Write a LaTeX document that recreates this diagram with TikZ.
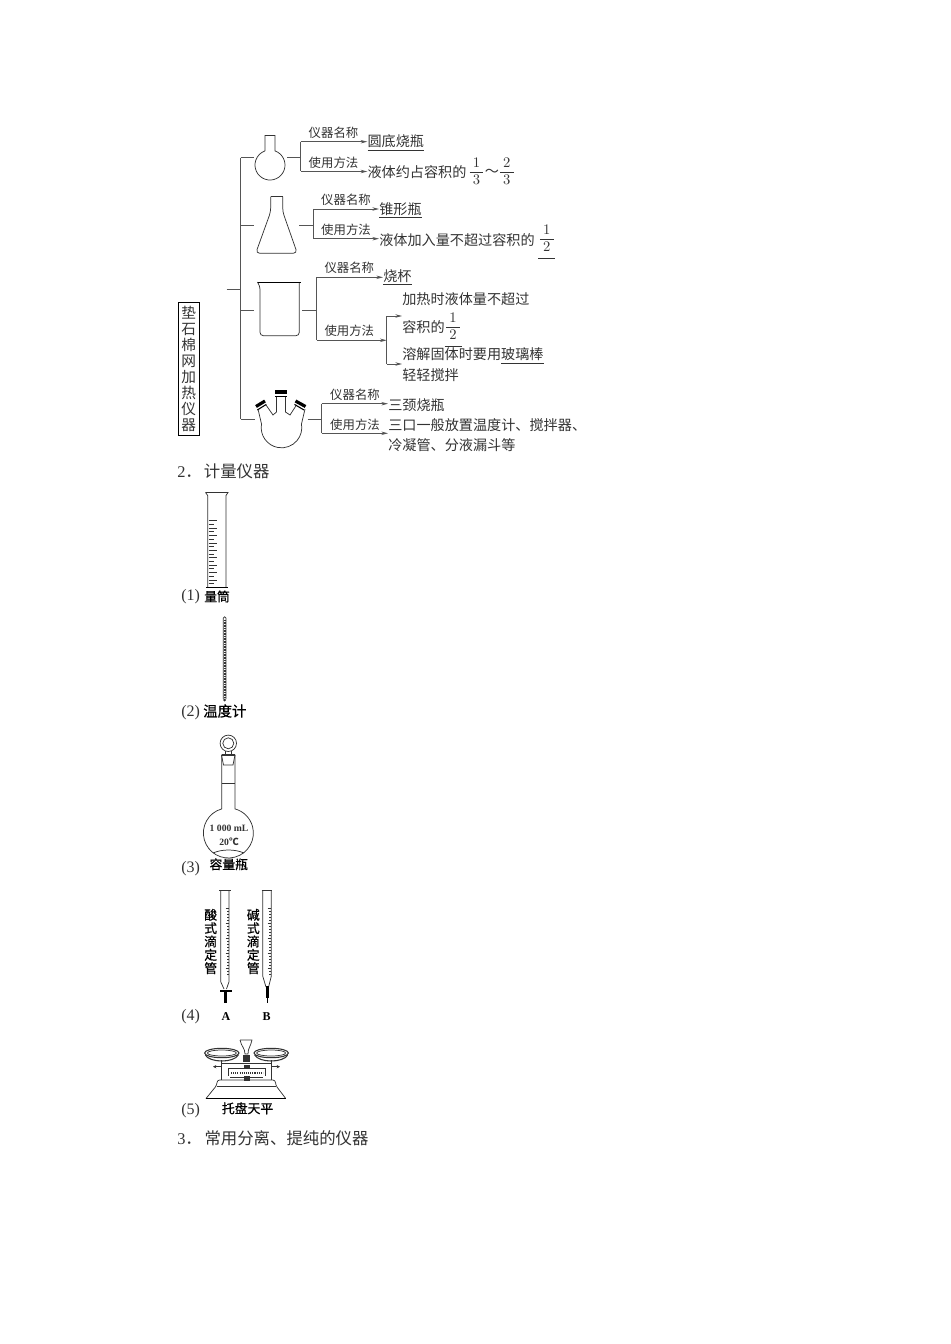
\documentclass[tikz,border=0pt]{standalone}
\usepackage{fontspec}
\setmainfont{Liberation Serif}
\newfontfamily\cjk{Noto Sans CJK SC}
\newfontfamily\cjkb{Noto Sans CJK SC}[FakeBold=0.7]
\usetikzlibrary{arrows.meta}
\definecolor{ink}{HTML}{333333}
\definecolor{wire}{HTML}{555555}
\newcommand\fr[2]{$\displaystyle\frac{\:\raisebox{-1pt}{$#1$}\:}{\:\raisebox{1pt}{$#2$}\:}$}
\newcommand\frul[2]{\underline{\rule[-10pt]{0pt}{1pt}\fr{#1}{#2}}}
\tikzset{
  lne/.style={draw=wire, line width=0.6pt},
  arw/.style={draw=wire, line width=0.6pt, -{Stealth[length=5pt,width=2.6pt]}},
  ins/.style={draw=ink, line width=0.55pt},
  thk/.style={draw=black, line width=1.2pt},
  lbl/.style={text=ink, inner sep=0pt, font=\cjk\fontsize{9.3}{11}\selectfont},
  ans/.style={text=ink, inner sep=0pt, anchor=west, font=\cjk\fontsize{10.6}{12}\selectfont},
  frc/.style={text=ink, inner sep=0pt, anchor=base, font=\fontsize{11}{13}\selectfont},
  hd/.style={text=ink, inner sep=0pt, anchor=west, font=\cjk\fontsize{12.3}{14}\selectfont},
  num/.style={text=ink, inner sep=0pt, anchor=west, font=\fontsize{12}{14}\selectfont},
  capt/.style={text=black, inner sep=0pt, font=\cjkb\fontsize{9.6}{10}\selectfont},
  vcap/.style={capt, align=center},
  box/.style={draw=black, line width=0.8pt, text=ink, inner sep=0pt, align=center,
    minimum width=21*0.75pt, minimum height=133*0.75pt, font=\cjk\fontsize{11}{12}\selectfont}
}
\begin{document}
\begin{tikzpicture}[x=0.75pt,y=-0.75pt]
  \useasboundingbox (0,0) rectangle (950,1344);

  % tree
  \node[box] (title) at (188.8,369.3) {垫\\石\\棉\\网\\加\\热\\仪\\器};
  \coordinate (stem) at (226.7,289);
  \coordinate (tr0) at (240.5,289);
  \coordinate (tr1) at (240.5,157.7);
  \coordinate (tr2) at (240.5,225);
  \coordinate (tr3) at (240.5,310);
  \coordinate (tr4) at (240.5,419);
  \coordinate (br1) at (254,157.7);
  \coordinate (br2) at (254,225);
  \coordinate (br3) at (254,310);
  \coordinate (br4) at (255,419);
  \draw[lne] (stem)--(tr0);
  \draw[lne] (tr1)--(tr4);
  \draw[lne] (tr1)--(br1);
  \draw[lne] (tr2)--(br2);
  \draw[lne] (tr3)--(br3);
  \draw[lne] (tr4)--(br4);

  % round flask
  \draw[ins] (265,150.9)--(265,135.6)--(275,135.6)--(275,150.9)
    arc[start angle=-70.5,end angle=250.5,radius=15];
  \coordinate (r1) at (287,157.7);
  \coordinate (m1) at (300.7,157.7);
  \coordinate (a1) at (300.7,141.7);
  \coordinate (b1) at (300.7,171.5);
  \node[ans] (t1a) at (367.3,142.7) {\underline{圆底烧瓶}};
  \node[ans] (t1b) at (367.3,172) {液体约占容积的};
  \node[frc] (f1a) at (476.5,175.7) {\fr{1}{3}};
  \node[ans] (t1c) at (484.5,172.5) {～};
  \node[frc] (f1b) at (506.7,175.7) {\fr{2}{3}};
  \node[lbl] (n1) at (333.5,132.7) {仪器名称};
  \node[lbl] (u1) at (333.5,162.7) {使用方法};
  \draw[lne] (r1)--(m1);
  \draw[lne] (a1)--(b1);
  \draw[arw] (a1)--(a1 -| t1a.west);
  \draw[arw] (b1)--(b1 -| t1b.west);

  % conical flask
  \draw[ins, rounded corners=3pt] (270.7,196.7)--(270.7,211.7)--(255.7,253.3)--(297.3,253.3)--(282.7,211.7)--(282.7,196.7);
  \draw[ins] (270.7,196.7)--(282.7,196.7);
  \coordinate (r2) at (299.3,225);
  \coordinate (m2) at (313.3,225);
  \coordinate (a2) at (313.3,209);
  \coordinate (b2) at (313.3,238.7);
  \node[ans] (t2a) at (379,210.7) {\underline{锥形瓶}};
  \node[ans] (t2b) at (379,240) {液体加入量不超过容积的};
  \node[frc] (f2a) at (546.7,243) {\frul{1}{2}};
  \node[lbl] (n2) at (346,200) {仪器名称};
  \node[lbl] (u2) at (346,229.3) {使用方法};
  \draw[lne] (r2)--(m2);
  \draw[lne] (a2)--(b2);
  \draw[arw] (a2)--(a2 -| t2a.west);
  \draw[arw] (b2)--(b2 -| t2b.west);

  % beaker
  \draw[ins, rounded corners=2.5pt] (257.3,282)--(260,286)--(260,335.7)--(299.3,335.7)--(299.3,283);
  \draw[thk, line width=0.9pt] (258,282.7)--(300.7,282.7);
  \coordinate (r3) at (302.3,310);
  \coordinate (m3) at (316.7,310);
  \coordinate (a3) at (316.7,277.3);
  \coordinate (b3) at (316.7,340.3);
  \coordinate (k3) at (386.7,340.3);
  \coordinate (c3) at (386.7,316);
  \coordinate (d3) at (386.7,364);
  \node[ans] (t3a) at (383,277.5) {\underline{烧杯}};
  \node[ans] (t3b) at (402,299) {加热时液体量不超过};
  \node[ans] (t3c) at (402,327.3) {容积的};
  \node[frc] (f3a) at (453,330.7) {\frul{1}{2}};
  \node[ans] (t3d) at (402,355.7) {溶解固体时要用\underline{玻璃棒}};
  \node[ans] (t3e) at (402,375) {轻轻搅拌};
  \node[lbl] (n3) at (349.3,267.7) {仪器名称};
  \node[lbl] (u3) at (349.3,331) {使用方法};
  \draw[lne] (r3)--(m3);
  \draw[lne] (a3)--(b3);
  \draw[arw] (a3)--(a3 -| t3a.west);
  \draw[arw] (b3)--(k3);
  \draw[lne] (c3)--(d3);
  \draw[arw] (c3)--(c3 -| t3c.west);
  \draw[arw] (d3)--(d3 -| t3e.west);

  % three-neck flask
  \draw[ins] (258,409)--(261.5,424) arc[start angle=190,end angle=-10,radius=20.3]--(305,409);
  \draw[ins] (266,405)--(273,415)--(276.5,412)--(276.5,397);
  \draw[ins] (296.5,405)--(290,415)--(285.5,412)--(285.5,397);
  \draw[thk, line width=2.4pt] (256,406.5)--(265,401);
  \draw[thk, line width=0.8pt] (257.3,410)--(266.3,404.4);
  \draw[thk, line width=2.4pt] (275,392)--(286.5,392);
  \draw[thk, line width=0.8pt] (275,396.5)--(286.5,396.5);
  \draw[thk, line width=2.4pt] (295.5,401)--(305.5,406.5);
  \draw[thk, line width=0.8pt] (294.5,404.4)--(304,410);
  \coordinate (r4) at (307.7,419);
  \coordinate (m4) at (321.7,419);
  \coordinate (a4) at (321.7,403.7);
  \coordinate (b4) at (321.7,433.3);
  \node[ans] (t4a) at (388,405) {三颈烧瓶};
  \node[ans] (t4b) at (388,425) {三口一般放置温度计、搅拌器、};
  \node[ans] (t4c) at (388,445) {冷凝管、分液漏斗等};
  \node[lbl] (n4) at (355,395) {仪器名称};
  \node[lbl] (u4) at (355,425) {使用方法};
  \draw[lne] (r4)--(m4);
  \draw[lne] (a4)--(b4);
  \draw[arw] (a4)--(a4 -| t4a.west);
  \draw[arw] (b4)--(b4 -| t4b.west);

  \node[hd] (h2) at (177,471.5) {{\rmfamily 2}．\kern1.5pt 计量仪器};

  % cylinder
  \draw[ins] (205.5,492.5)--(228,492.5)--(226,495.5)--(226,587.3);
  \draw[ins] (205.5,492.5)--(207.7,495.5)--(207.7,587.3);
  \draw[thk, line width=0.9pt] (206,587.7)--(228,587.7);
  \foreach \i in {0,...,17} {
    \pgfmathsetmacro\tx{mod(\i,2)==0?216.7:214}
    \draw[ins] (208.5,520.7+\i*3.7)--(\tx,520.7+\i*3.7);
  }
  \node[num] (l1) at (181,597) {(1)};
  \node[capt, anchor=west] (c1) at (204,596.5) {量筒};

  % thermometer
  \draw[ins, rounded corners=1pt] (223.3,699)--(223.3,616.7)--(226,616.7)--(226,699);
  \fill[ink] (224.7,700) circle[radius=1.5];
  \draw[draw=ink, line width=1.6pt, dash pattern=on 0.4pt off 0.8pt] (224.7,620)--(224.7,697);
  \node[num] (l2) at (181,712.3) {(2)};
  \node[capt, anchor=west, font=\cjkb\fontsize{10.8}{12}\selectfont] (c2) at (203,711) {温度计};

  % volumetric flask
  \draw[ins] (228.3,743.3) circle[radius=8.2];
  \draw[ins] (228.3,743.3) circle[radius=5.5];
  \draw[ins] (225,751)--(225,755);
  \draw[ins] (231.6,751)--(231.6,755);
  \draw[ins] (221.5,755)--(235,755)--(233,765)--(223.5,765)--cycle;
  \fill[ink] (221.5,753.5) rectangle (235,755.5);
  \draw[ins] (221.7,755)--(221.7,808.9) arc[start angle=-105.5,end angle=-434.5,radius=25]--(235,755);
  \draw[ins] (221.7,783)--(235,783);
  \draw[ins] (213,853) .. controls (222,849) and (235,849) .. (244,853);
  \node[text=ink, inner sep=0pt, font=\bfseries\fontsize{7.25}{9}\selectfont] (v1) at (229,828) {1 000 mL};
  \node[text=ink, inner sep=0pt, font=\bfseries\fontsize{7.25}{9}\selectfont] (v2) at (229,841.7) {20{\cjk ℃}};
  \node[num] (l3) at (181,869) {(3)};
  \node[capt, anchor=west] (c3n) at (209.3,864.3) {容量瓶};

  % burettes
  \draw[ins] (219.3,890.7)--(230.7,890.7);
  \draw[ins] (220.7,891)--(220.7,981.7)--(224,989);
  \draw[ins] (229,891)--(229,981.7)--(226.5,989);
  \draw[thk, line width=2pt] (220,991)--(231.7,991);
  \draw[thk, line width=2pt] (225.2,991)--(225.2,1003);
  \draw[ins] (261.7,890.7)--(272.3,890.7);
  \draw[ins] (262.7,891)--(262.7,976)--(266,987);
  \draw[ins] (271.3,891)--(271.3,976)--(268.6,987);
  \draw[thk, line width=2pt] (267.3,986)--(267.3,998);
  \draw[thk] (267.3,998)--(267.3,1003);
  \foreach \i in {0,...,22} {
    \pgfmathsetmacro\tx{mod(\i,5)==0?225.5:227}
    \pgfmathsetmacro\ty{mod(\i,5)==0?267.5:269}
    \draw[ins, line width=0.4pt] (\tx,908+\i*3)--(228.7,908+\i*3);
    \draw[ins, line width=0.4pt] (\ty,908+\i*3)--(271,908+\i*3);
  }
  \node[vcap] (acid) at (210.7,941.5) {酸\\式\\滴\\定\\管};
  \node[vcap] (base) at (253.3,941.5) {碱\\式\\滴\\定\\管};
  \node[text=black, inner sep=0pt, font=\bfseries\fontsize{9}{11}\selectfont] (ba) at (226,1016.7) {A};
  \node[text=black, inner sep=0pt, font=\bfseries\fontsize{9}{11}\selectfont] (bb) at (266.7,1016.7) {B};
  \node[num] (l4) at (181,1017) {(4)};

  % balance
  \foreach \cx in {221.8,271.2} {
    \draw[ins, line width=0.8pt] (\cx,1053) ellipse[x radius=17.2,y radius=4.7];
    \draw[ins] (\cx,1053) ellipse[x radius=14.5,y radius=3];
    \draw[ins, line width=0.8pt] (\cx-16.5,1055) .. controls (\cx-12,1063) and (\cx+12,1063) .. (\cx+16.5,1055);
    \draw[ins, line width=0.9pt] (\cx,1060)--(\cx,1080);
  }
  \draw[ins, line width=0.9pt] (221.8,1063.5)--(271.2,1063.5);
  \draw[ins] (240,1040)--(252,1040) .. controls (250.5,1047) and (248,1048) .. (248,1054)--(245,1054) .. controls (245,1048) and (241.5,1047) .. (240,1040);
  \fill[ink] (243.3,1055) rectangle (250,1062);
  \draw[ins] (228.3,1068.5)--(265,1068.5);
  \draw[ins] (228.3,1068)--(228.3,1076);
  \draw[ins] (265,1068)--(265,1076);
  \draw[ins, line width=1.3pt, dash pattern=on 0.8pt off 0.8pt] (231,1073.3)--(263,1073.3);
  \draw[ins] (230,1077)--(263,1077);
  \fill[ink] (243.5,1064.5) rectangle (249.5,1067.5);
  \fill[ink] (243.5,1076) rectangle (249.5,1081);
  \draw[ins, {Stealth[length=2.5pt,width=2.5pt]}-] (213,1066.7)--(221,1066.7);
  \draw[ins, -{Stealth[length=2.5pt,width=2.5pt]}] (272,1066.7)--(280,1066.7);
  \draw[ins, rounded corners=2pt] (206,1098.5)--(217,1085)--(217,1080)--(275.5,1080)--(275.5,1085)--(285.7,1098.5);
  \draw[ins] (216.7,1086.7)--(275.5,1086.7);
  \draw[thk, line width=0.9pt] (206,1098.5)--(285.7,1098.5);
  \node[capt, anchor=west] (c5) at (221.7,1108.3) {托盘天平};
  \node[num] (l5) at (181,1111) {(5)};

  \node[hd] (h3) at (177,1138.5) {{\rmfamily 3}．\kern2pt 常用分离、提纯的仪器};
\end{tikzpicture}
\end{document}
